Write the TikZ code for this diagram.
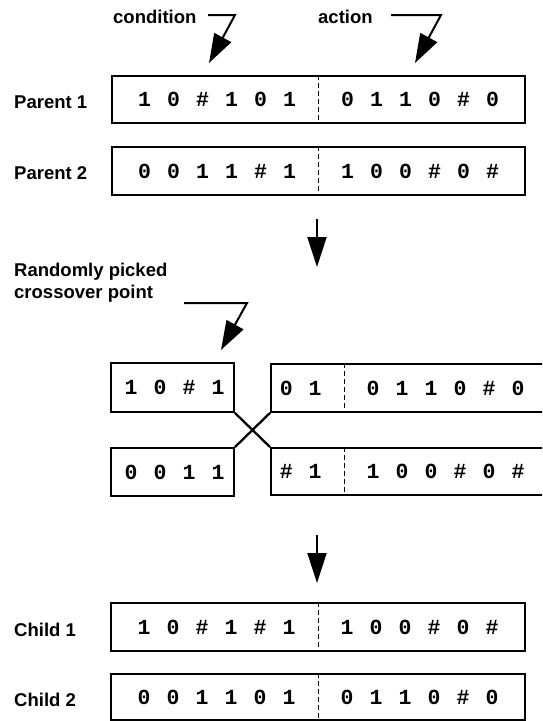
\documentclass[tikz,border=0pt]{standalone}
\usepackage{fontspec}
\usetikzlibrary{arrows.meta,calc}
\newfontfamily\lblfamily{Liberation Sans}
\newfontfamily\genefamily{Liberation Mono}
% one fixed-width cell per classifier symbol
\newcommand\gcells[1]{\foreach \g in {#1}{\makebox[29pt][c]{\g}}}
\begin{document}
\begin{tikzpicture}[x=1pt,y=-1pt,
  gbox/.style={draw,line width=1.9pt,rectangle,inner sep=0pt},
  gtxt/.style={inner sep=0pt,font=\genefamily\bfseries\fontsize{21.5}{21.5}\selectfont},
  lbl/.style={inner sep=0pt,font=\lblfamily\bfseries\fontsize{18.5}{22}\selectfont},
  divider/.style={line width=0.9pt,dash pattern=on 5pt off 3pt},
  bigarrow/.style={line width=2pt,-{Triangle[length=30pt,width=19pt]}},
  pointer/.style={line width=2pt,line join=miter,-{Triangle[length=29pt,width=19pt]}}]
\useasboundingbox (0,0) rectangle (542,721);
\clip (0,0) rectangle (542,721);
\fill[white] (0,0) rectangle (542,721);

% ---- parents ----
\node[gbox,minimum width=413pt,minimum height=47pt] (p1) at (318.5,99.5) {};
\node[gtxt] (p1t) at (p1.center) {\gcells{1,0,\#,1,0,1,{},0,1,1,0,\#,0}};
\draw[divider] (p1.north) -- (p1.south);
\node[gbox,minimum width=413pt,minimum height=48pt] (p2) at (318.5,171) {};
\node[gtxt] (p2t) at (p2.center) {\gcells{0,0,1,1,\#,1,{},1,0,0,\#,0,\#}};
\draw[divider] (p2.north) -- (p2.south);
\node[lbl,anchor=west] (p1l) at (14,102) {Parent 1};
\node[lbl,anchor=west] (p2l) at (14,173.5) {Parent 2};

% ---- condition / action pointers ----
\node[lbl,anchor=base west] (cond) at (113,23.5) {condition};
\node[lbl,anchor=base west] (act) at (318,23.5) {action};
\coordinate (condA) at (208,15);
\coordinate (condB) at (235,15);
\coordinate (condT) at (209,63);
\coordinate (actA) at (391,15);
\coordinate (actB) at (441,15);
\coordinate (actT) at (415,63);
\draw[pointer] (condA) -- (condB) -- (condT);
\draw[pointer] (actA) -- (actB) -- (actT);

% ---- step arrow ----
\coordinate (s1a) at (317,219);
\coordinate (s1b) at (317,267);
\draw[bigarrow] (s1a) -- (s1b);

% ---- crossover point ----
\node[lbl,anchor=base west,align=left] (xlbl) at (14,298) {Randomly picked\\crossover point};
\coordinate (xA) at (184,303);
\coordinate (xB) at (247,303);
\coordinate (xT) at (221,350);
\draw[pointer] (xA) -- (xB) -- (xT);

\node[gbox,minimum width=123pt,minimum height=49pt] (ul) at (172.5,387.5) {};
\node[gtxt] (ult) at ([xshift=2pt]ul.center) {\gcells{1,0,\#,1}};
\node[gbox,minimum width=123pt,minimum height=48pt] (ll) at (172.5,472) {};
\node[gtxt] (llt) at ([xshift=2pt]ll.center) {\gcells{0,0,1,1}};

\node[gbox,minimum width=300pt,minimum height=48pt,anchor=north west] (ur) at (270,363) {};
\node[gtxt,anchor=west] (urt) at ([xshift=1.5pt]ur.west) {\gcells{0,1,{},0,1,1,0,\#,0}};
\draw[divider] ([xshift=74pt]ur.north west) -- ([xshift=74pt]ur.south west);
\node[gbox,minimum width=300pt,minimum height=47pt,anchor=north west] (lr) at (270,447) {};
\node[gtxt,anchor=west] (lrt) at ([xshift=1.5pt]lr.west) {\gcells{\#,1,{},1,0,0,\#,0,\#}};
\draw[divider] ([xshift=74pt]lr.north west) -- ([xshift=74pt]lr.south west);

\draw[line width=2.3pt] (ul.south east) -- (lr.north west);
\draw[line width=2.3pt] (ur.south west) -- (ll.north east);

% ---- step arrow ----
\coordinate (s2a) at (317,535);
\coordinate (s2b) at (317,583);
\draw[bigarrow] (s2a) -- (s2b);

% ---- children ----
\node[gbox,minimum width=414pt,minimum height=48pt] (c1) at (318,627) {};
\node[gtxt] (c1t) at (c1.center) {\gcells{1,0,\#,1,\#,1,{},1,0,0,\#,0,\#}};
\draw[divider] (c1.north) -- (c1.south);
\node[gbox,minimum width=414pt,minimum height=46pt] (c2) at (318,697) {};
\node[gtxt] (c2t) at (c2.center) {\gcells{0,0,1,1,0,1,{},0,1,1,0,\#,0}};
\draw[divider] (c2.north) -- (c2.south);
\node[lbl,anchor=west] (c1l) at (14,629.5) {Child 1};
\node[lbl,anchor=west] (c2l) at (14,699.5) {Child 2};
\end{tikzpicture}
\end{document}
